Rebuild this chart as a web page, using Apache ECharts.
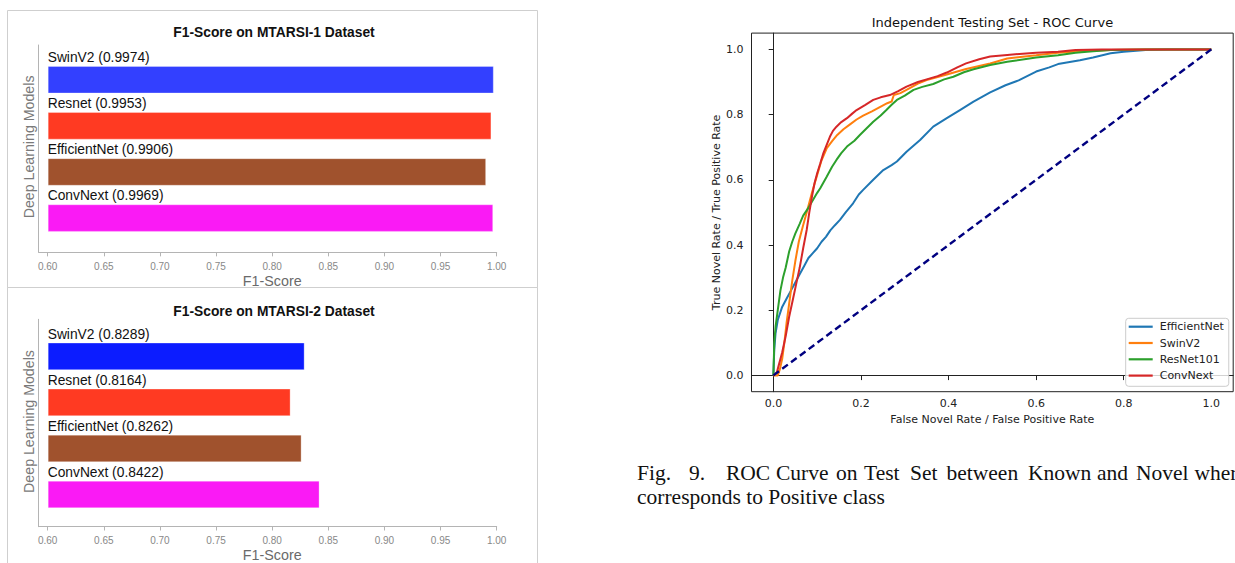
<!DOCTYPE html>
<html><head><meta charset="utf-8">
<script src="https://cdn.jsdelivr.net/npm/echarts@6/dist/echarts.min.js"></script>
<style>html,body{margin:0;padding:0;background:#fff}#c{width:1235px;height:563px}</style>
</head><body><div id="c"></div>
<script>
// ---- data ----
const models = ['SwinV2', 'Resnet', 'EfficientNet', 'ConvNext'];
const f1Mtarsi1 = [0.9974, 0.9953, 0.9906, 0.9969];
const f1Mtarsi2 = [0.8289, 0.8164, 0.8262, 0.8422];
const f1Ticks = [0.60, 0.65, 0.70, 0.75, 0.80, 0.85, 0.90, 0.95, 1.00];
const rocTicks = [0.0, 0.2, 0.4, 0.6, 0.8, 1.0];
const rocNames = ['EfficientNet', 'SwinV2', 'ResNet101', 'ConvNext'];
const rocEfficientNet = [[0,0],[0.002,0.08],[0.005,0.13],[0.01,0.17],[0.02,0.21],[0.03,0.235],[0.04,0.26],[0.05,0.285],[0.06,0.31],[0.07,0.335],[0.08,0.36],[0.09,0.375],[0.1,0.39],[0.11,0.41],[0.12,0.425],[0.13,0.445],[0.14,0.46],[0.152,0.477],[0.165,0.5],[0.182,0.528],[0.195,0.555],[0.205,0.569],[0.228,0.6],[0.251,0.63],[0.27,0.645],[0.282,0.656],[0.304,0.686],[0.335,0.722],[0.365,0.763],[0.396,0.789],[0.426,0.814],[0.457,0.84],[0.495,0.868],[0.53,0.89],[0.56,0.905],[0.6,0.932],[0.63,0.945],[0.65,0.955],[0.7,0.967],[0.73,0.975],[0.77,0.988],[0.8,0.993],[0.85,0.998],[0.9,1.0],[1,1]];
const rocSwinV2 = [[0,0],[0.01,0],[0.015,0.02],[0.02,0.05],[0.025,0.1],[0.03,0.16],[0.036,0.22],[0.043,0.29],[0.05,0.35],[0.058,0.41],[0.067,0.456],[0.076,0.5],[0.088,0.56],[0.1,0.615],[0.11,0.66],[0.122,0.697],[0.135,0.72],[0.144,0.735],[0.16,0.755],[0.175,0.77],[0.19,0.785],[0.205,0.797],[0.225,0.81],[0.243,0.823],[0.26,0.835],[0.27,0.84],[0.275,0.86],[0.29,0.866],[0.304,0.876],[0.33,0.895],[0.35,0.906],[0.396,0.923],[0.44,0.94],[0.495,0.957],[0.534,0.972],[0.6,0.982],[0.65,0.99],[0.7,0.994],[0.77,0.998],[0.85,1],[1,1]];
const rocResNet101 = [[0,0],[0.002,0.1],[0.005,0.15],[0.01,0.2],[0.016,0.26],[0.022,0.3],[0.028,0.33],[0.036,0.38],[0.043,0.41],[0.05,0.435],[0.06,0.465],[0.068,0.49],[0.078,0.51],[0.088,0.533],[0.1,0.56],[0.107,0.574],[0.122,0.61],[0.134,0.64],[0.144,0.661],[0.155,0.682],[0.168,0.702],[0.185,0.72],[0.198,0.738],[0.213,0.758],[0.228,0.778],[0.245,0.797],[0.258,0.814],[0.27,0.83],[0.282,0.845],[0.3,0.858],[0.32,0.876],[0.34,0.885],[0.365,0.894],[0.39,0.908],[0.411,0.916],[0.435,0.93],[0.457,0.939],[0.495,0.952],[0.534,0.962],[0.6,0.975],[0.65,0.982],[0.69,0.99],[0.73,0.994],[0.77,0.998],[0.85,1],[1,1]];
const rocConvNext = [[0,0],[0.008,0.01],[0.012,0.03],[0.02,0.07],[0.028,0.12],[0.036,0.18],[0.044,0.23],[0.052,0.28],[0.06,0.33],[0.068,0.39],[0.076,0.446],[0.082,0.5],[0.088,0.548],[0.094,0.59],[0.1,0.62],[0.107,0.65],[0.114,0.681],[0.121,0.705],[0.129,0.732],[0.136,0.75],[0.144,0.763],[0.155,0.777],[0.168,0.789],[0.18,0.803],[0.19,0.814],[0.21,0.83],[0.228,0.845],[0.245,0.853],[0.266,0.86],[0.285,0.872],[0.304,0.886],[0.33,0.9],[0.35,0.908],[0.375,0.918],[0.396,0.929],[0.42,0.945],[0.44,0.957],[0.47,0.97],[0.495,0.978],[0.534,0.983],[0.6,0.99],[0.65,0.993],[0.69,0.998],[0.75,1],[1,1]];
const rocChance = [[0,0],[1,1]];
const captionLine1 = ['Fig.', '9.', 'ROC', 'Curve', 'on', 'Test', 'Set', 'between', 'Known', 'and', 'Novel', 'where'];
const captionLine2 = 'corresponds to Positive class';

// ---- styles / layout ----
const barColors1 = ['#3340ff', '#ff3a22', '#a0522d', '#fa1af5'];
const barColors2 = ['#0c1cff', '#ff3a22', '#a0522d', '#fa1af5'];
const rocColors = ['#1f77b4', '#ff7f0e', '#2ca02c', '#d62728'];
const captionWordX = [637, 689, 726, 776, 836, 864, 910, 946.5, 1028, 1097, 1136, 1194.5];
const SANS = "'Liberation Sans', Arial, sans-serif";
const DV = "'DejaVu Sans', sans-serif";
const SERIF_FONT = "21.5px 'Liberation Serif', 'Times New Roman', serif";
const frameColor = '#b4b4b4';

const chart = echarts.init(document.getElementById('c'), null, {renderer: 'svg', width: 1235, height: 563});

function frameAxes(gi, nameShift) {
  return {
    x: {gridIndex: gi, type: 'value', min: 0, max: 1, axisLine: {show: true, lineStyle: {color: frameColor, width: 1}},
        axisTick: {show: false}, axisLabel: {show: false}, splitLine: {show: false}},
    y: {gridIndex: gi, type: 'value', min: 0, max: 1, axisLine: {show: true, lineStyle: {color: frameColor, width: 1}},
        axisTick: {show: false}, axisLabel: {show: false}, splitLine: {show: false},
        name: 'Deep Learning Models', nameLocation: 'middle', nameGap: 3,
        nameTextStyle: {color: '#7a7a7a', fontSize: 14.2, fontFamily: SANS, padding: [0, 0, 0, nameShift]}}
  };
}
function barAxes(gi, off) {
  return {
    x: {gridIndex: gi, type: 'value', min: 0.6, max: 1.0, startValue: 0.6, offset: off,
        axisLine: {show: false},
        axisTick: {show: true, length: 4, customValues: f1Ticks, lineStyle: {color: frameColor}},
        axisLabel: {customValues: f1Ticks, formatter: v => Number(v).toFixed(2), color: '#888888', fontSize: 10, fontFamily: SANS, margin: 9},
        splitLine: {show: false},
        name: 'F1-Score', nameLocation: 'middle', nameGap: 21.5,
        nameTextStyle: {color: '#6a6a6a', fontSize: 14.3, fontFamily: SANS}},
    y: {gridIndex: gi, type: 'category', data: models, inverse: true, show: false}
  };
}
function barSeries(gi, values, colors) {
  return {
    type: 'bar', xAxisIndex: gi, yAxisIndex: gi, barWidth: 27.6, clip: true,
    data: values.map((v, i) => ({value: v, itemStyle: {color: colors[i], borderColor: 'rgba(255,255,255,0.3)', borderWidth: 1}})),
    label: {show: true, position: [0, -8.4], align: 'left', verticalAlign: 'middle',
            formatter: p => p.name + ' (' + Number(p.value).toFixed(4) + ')',
            color: '#111', fontSize: 13.8, fontFamily: SANS}
  };
}

const f1 = frameAxes(0, 3.5), b1 = barAxes(1, 11.2), f2 = frameAxes(2, 3), b2 = barAxes(3, 9);

const rocData = [rocEfficientNet, rocSwinV2, rocResNet101, rocConvNext];
const rocSeries = rocNames.map((n, i) => ({
  name: n, type: 'line', xAxisIndex: 4, yAxisIndex: 4, data: rocData[i], symbol: 'none', showSymbol: false,
  lineStyle: {color: rocColors[i], width: 2}, itemStyle: {color: rocColors[i]}, z: 3
}));
rocSeries.push({
  name: 'chance', type: 'line', xAxisIndex: 4, yAxisIndex: 4, data: rocChance, symbol: 'none',
  lineStyle: {color: '#000080', width: 2.4, type: [7, 4]}, itemStyle: {color: '#000080'}, z: 4
});

function txt(x, y, text, font, fill, align) {
  return {type: 'text', x: x, y: y, silent: true,
    style: {text: text, font: font, fill: fill, align: align, textAlign: align, verticalAlign: 'middle', textVerticalAlign: 'middle'}};
}

const graphics = [
  {type: 'rect', silent: true, shape: {x: 7.5, y: 10.5, width: 530, height: 277}, style: {fill: 'none', stroke: '#cfcfcf', lineWidth: 1}},
  {type: 'rect', silent: true, shape: {x: 7.5, y: 287.5, width: 530, height: 300}, style: {fill: 'none', stroke: '#cfcfcf', lineWidth: 1}},
  txt(274, 32.3, 'F1-Score on MTARSI-1 Dataset', "bold 13.8px 'Liberation Sans', Arial, sans-serif", '#111', 'center'),
  txt(274, 311, 'F1-Score on MTARSI-2 Dataset', "bold 13.8px 'Liberation Sans', Arial, sans-serif", '#111', 'center'),
  txt(992.4, 22, 'Independent Testing Set - ROC Curve', "13px 'DejaVu Sans', sans-serif", '#111', 'center'),
  txt(637, 497, captionLine2, SERIF_FONT, '#111', 'left')
];
captionLine1.forEach((w, i) => graphics.push(txt(captionWordX[i], 473, w, SERIF_FONT, '#111', 'left')));

chart.setOption({
  animation: false,
  backgroundColor: '#fff',
  grid: [
    {left: 38.7, top: 45, width: 458, height: 207.3},
    {left: 47.7, top: 56.65, width: 449, height: 184.5},
    {left: 38.7, top: 319.3, width: 458, height: 207.4},
    {left: 47.7, top: 333.3, width: 449, height: 184.4},
    {left: 751.5, top: 33.1, width: 481.7, height: 358.6, show: true, borderColor: '#222', borderWidth: 1, backgroundColor: 'transparent'}
  ],
  xAxis: [f1.x, b1.x, f2.x, b2.x,
    {gridIndex: 4, type: 'value', min: -0.05, max: 1.05,
     axisLine: {show: true, lineStyle: {color: '#222', width: 1}},
     axisTick: {show: true, length: 4.7, customValues: rocTicks, lineStyle: {color: '#222'}},
     axisLabel: {customValues: rocTicks, formatter: v => Number(v).toFixed(1), color: '#222', fontSize: 11, fontFamily: DV, margin: 6},
     splitLine: {show: false},
     name: 'False Novel Rate / False Positive Rate', nameLocation: 'middle', nameGap: 22.5,
     nameTextStyle: {color: '#222', fontSize: 11, fontFamily: DV}}
  ],
  yAxis: [f1.y, b1.y, f2.y, b2.y,
    {gridIndex: 4, type: 'value', min: -0.05, max: 1.05,
     axisLine: {show: true, lineStyle: {color: '#222', width: 1}},
     axisTick: {show: true, length: 4.7, customValues: rocTicks, lineStyle: {color: '#222'}},
     axisLabel: {customValues: rocTicks, formatter: v => Number(v).toFixed(1), color: '#222', fontSize: 11, fontFamily: DV, margin: 8},
     splitLine: {show: false},
     name: 'True Novel Rate / True Positive Rate', nameLocation: 'middle', nameGap: 29.8,
     nameTextStyle: {color: '#222', fontSize: 11, fontFamily: DV}}
  ],
  legend: {
    data: rocNames, orient: 'vertical', left: 1125.7, top: 318.3, icon: 'rect',
    itemWidth: 24, itemHeight: 2.2, itemGap: 4.3, padding: [2.4, 5, 4.7, 3],
    textStyle: {fontSize: 11, fontFamily: DV, color: '#222', lineHeight: 12, padding: [0, 0, 0, 2]},
    backgroundColor: 'rgba(255,255,255,0.8)', borderColor: '#cccccc', borderWidth: 1, borderRadius: 3
  },
  series: [barSeries(1, f1Mtarsi1, barColors1), barSeries(3, f1Mtarsi2, barColors2)].concat(rocSeries),
  graphic: graphics
});
</script></body></html>
